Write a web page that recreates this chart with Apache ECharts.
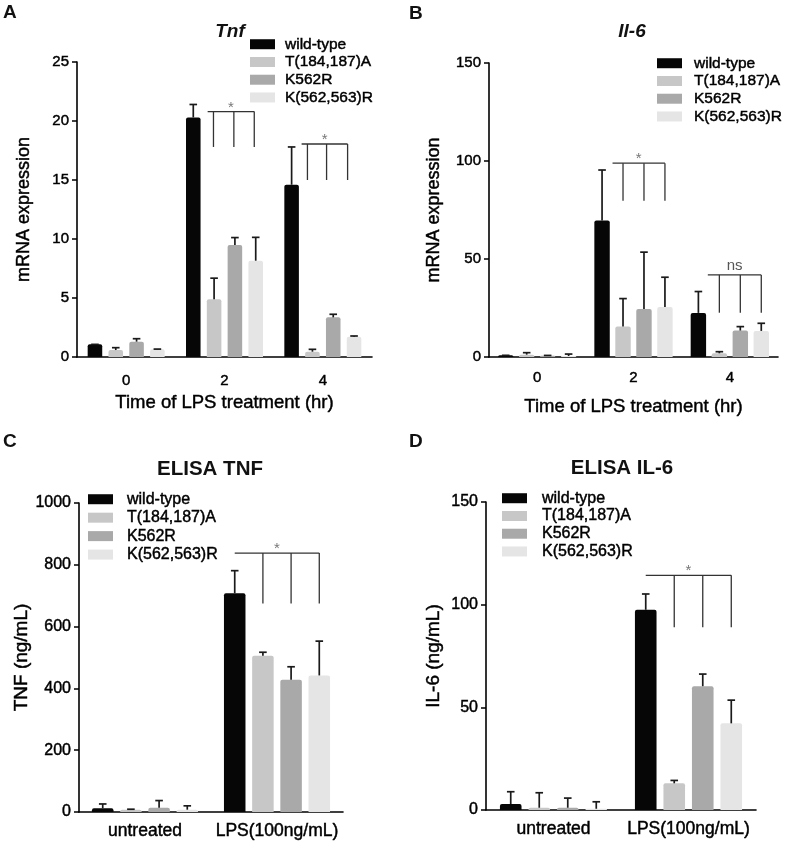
<!DOCTYPE html>
<html>
<head>
<meta charset="utf-8">
<script src="https://cdn.jsdelivr.net/npm/echarts@6/dist/echarts.min.js"></script>
<style>
html,body{margin:0;padding:0;background:#fff;}
#main{width:787px;height:843px;}
</style>
</head>
<body>
<div id="main"></div>
<script>
// ---------------- DATA ----------------
const seriesNames = ['wild-type', 'T(184,187)A', 'K562R', 'K(562,563)R'];
const timeCats = ['0', '2', '4'];
const elisaCats = ['untreated', 'LPS(100ng/mL)'];

const yTicksA = [0, 5, 10, 15, 20, 25];
const yTicksB = [0, 50, 100, 150];
const yTicksC = [0, 200, 400, 600, 800, 1000];
const yTicksD = [0, 50, 100, 150];

// Panel A: Tnf mRNA (rows = series, cols = categories)
const tnfMean = [[1.07, 20.3, 14.6], [0.59, 4.9, 0.45], [1.3, 9.5, 3.36], [0.65, 8.16, 1.72]];
const tnfErr  = [[0.0, 1.1, 3.2], [0.2, 1.78, 0.2], [0.25, 0.62, 0.26], [0.02, 1.98, 0.06]];
// Panel B: Il-6 mRNA
const il6Mean = [[0.85, 69.6, 22.5], [1.2, 15.5, 1.9], [0.7, 24.5, 13.5], [0.5, 25.5, 13.3]];
const il6Err  = [[0.0, 25.8, 10.9], [1.0, 14.3, 0.8], [0.1, 29.0, 2.0], [1.0, 15.2, 3.9]];
// Panel C: ELISA TNF
const elisaTnfMean = [[12, 708], [7, 506], [14, 428], [7.5, 442]];
const elisaTnfErr  = [[14, 73], [2, 11], [23, 42], [12.5, 111]];
// Panel D: ELISA IL-6
const elisaIl6Mean = [[2.9, 97.5], [1.1, 13], [1.1, 60.3], [0.6, 42.2]];
const elisaIl6Err  = [[6, 7.7], [7.3, 1.4], [4.7, 5.9], [3.4, 11.3]];

// significance brackets: [categoryIndex, topValue, bottomValue, label]
const sigA = [[1, 20.8, 17.8, '*'], [2, 18.05, 15.0, '*']];
const sigB = [[1, 98.9, 79.7, '*'], [2, 41.9, 22.6, 'ns']];
const sigC = [[1, 838, 675, '*']];
const sigD = [[1, 114.3, 89, '*']];

// ---------------- STYLE / LAYOUT ----------------
const FONT = '"Liberation Sans", Arial, Helvetica, sans-serif';
const barColors = ['#060606', '#c7c7c7', '#a9a9a9', '#e5e5e5'];
const TB = {textBorderColor: '#000', textBorderWidth: 0.45};

// bracket x-positions in bar-index units (0 = wild-type bar), per bracket
const bracketX = {
  A: [[0.69, 0.97, 1.95, 2.93], [0.48, 0.76, 1.68, 2.69]],
  B: [[0.5, 1, 2, 3], [0.45, 1, 2, 3]],
  C: [[0, 1, 2, 3]],
  D: [[0, 1, 2, 3]]
};

const panels = [
  {key: 'A', grid: {left: 77, top: 62, width: 295, height: 295}, cats: timeCats, mean: tnfMean, err: tnfErr, sig: sigA,
   yMax: 25, yInt: 5, yName: 'mRNA expression', yNameGap: 44, xName: 'Time of LPS treatment (hr)', xNameGap: 36,
   bw: 0.148, gap: 0.43, xLabelMargin: 16, xLabelSize: 15, yNameSize: 18, tickSize: 15,
   legend: {left: 250, top: 36, pad: 5, size: 15.5, gapRow: 1.3}},
  {key: 'B', grid: {left: 489, top: 63, width: 289, height: 294}, cats: timeCats, mean: il6Mean, err: il6Err, sig: sigB,
   yMax: 150, yInt: 50, yName: 'mRNA expression', yNameGap: 46, xName: 'Time of LPS treatment (hr)', xNameGap: 40,
   bw: 0.16, gap: 0.36, xLabelMargin: 13, xLabelSize: 15, yNameSize: 18, tickSize: 15,
   legend: {left: 657, top: 55, pad: 7, size: 15.5, gapRow: 1.3}},
  {key: 'C', grid: {left: 79, top: 503, width: 264, height: 309}, cats: elisaCats, mean: elisaTnfMean, err: elisaTnfErr, sig: sigC,
   yMax: 1000, yInt: 200, yName: 'TNF (ng/mL)', yNameGap: 47, xName: '', xNameGap: 0,
   bw: 0.163, gap: 0.31, xLabelMargin: 10, xLabelSize: 17.5, yNameSize: 19, tickSize: 16,
   legend: {left: 88, top: 491, pad: 9, size: 16, gapRow: 2}},
  {key: 'D', grid: {left: 486, top: 502, width: 270, height: 308}, cats: elisaCats, mean: elisaIl6Mean, err: elisaIl6Err, sig: sigD,
   yMax: 150, yInt: 50, yName: 'IL-6 (ng/mL)', yNameGap: 43, xName: '', xNameGap: 0,
   bw: 0.16, gap: 0.32, xLabelMargin: 10, xLabelSize: 17.5, yNameSize: 19, tickSize: 16,
   legend: {left: 502, top: 490, pad: 10, size: 16, gapRow: 1.3}}
];

const grids = [], xAxes = [], yAxes = [], series = [], legends = [];

panels.forEach(function (p, pi) {
  grids.push(Object.assign({containLabel: false}, p.grid));
  xAxes.push({
    type: 'category', gridIndex: pi, data: p.cats,
    axisLine: {lineStyle: {color: '#000', width: 1.6}},
    axisTick: {show: false},
    axisLabel: Object.assign({interval: 0, color: '#000', fontFamily: FONT, fontSize: p.xLabelSize, margin: p.xLabelMargin}, TB),
    name: p.xName, nameLocation: 'middle', nameGap: p.xNameGap,
    nameTextStyle: Object.assign({color: '#000', fontFamily: FONT, fontSize: 18.5}, TB)
  });
  yAxes.push({
    type: 'value', gridIndex: pi, min: 0, max: p.yMax, interval: p.yInt,
    axisLine: {show: true, lineStyle: {color: '#000', width: 1.6}},
    axisTick: {show: true, length: 5, lineStyle: {color: '#000', width: 1.5}},
    splitLine: {show: false},
    axisLabel: Object.assign({color: '#000', fontFamily: FONT, fontSize: p.tickSize, margin: 8,
      formatter: function (v) { return String(v); }}, TB),
    name: p.yName, nameLocation: 'middle', nameGap: p.yNameGap, nameRotate: 90,
    nameTextStyle: Object.assign({color: '#000', fontFamily: FONT, fontSize: p.yNameSize}, TB)
  });

  seriesNames.forEach(function (nm, si) {
    series.push({
      type: 'bar', name: nm, xAxisIndex: pi, yAxisIndex: pi,
      data: p.mean[si],
      barWidth: (p.bw * 100) + '%', barGap: (p.gap * 100) + '%',
      itemStyle: {color: barColors[si], borderRadius: [2, 2, 0, 0]},
      emphasis: {disabled: true}, silent: true, z: 2
    });
  });

  // error bars
  const errData = [];
  seriesNames.forEach(function (nm, si) {
    p.mean[si].forEach(function (v, ci) { errData.push([ci, v, p.err[si][ci], si]); });
  });
  const bw = p.bw, gap = p.gap;
  series.push({
    type: 'custom', name: 'err' + p.key, xAxisIndex: pi, yAxisIndex: pi, silent: true, z: 5,
    encode: {x: 0, y: 1},
    data: errData,
    renderItem: function (params, api) {
      const cat = api.value(0), v = api.value(1), e = api.value(2), k = api.value(3);
      const band = api.size([1, 0])[0];
      const w = band * bw, step = w * (1 + gap);
      const cx = api.coord([cat, 0])[0] + (k - 1.5) * step;
      const y1 = api.coord([cat, v])[1], y2 = api.coord([cat, v + e])[1];
      const st = {stroke: '#1a1a1a', lineWidth: 1.7};
      return {type: 'group', children: [
        {type: 'line', shape: {x1: cx, y1: y1, x2: cx, y2: y2}, style: st},
        {type: 'line', shape: {x1: cx - 3.8, y1: y2, x2: cx + 3.8, y2: y2}, style: st}
      ]};
    }
  });

  // significance brackets
  const bx = bracketX[p.key];
  series.push({
    type: 'custom', name: 'sig' + p.key, xAxisIndex: pi, yAxisIndex: pi, silent: true, z: 6,
    encode: {x: 0, y: 1},
    data: p.sig.map(function (s, i) { return [s[0], s[1], s[2], i]; }),
    renderItem: function (params, api) {
      const cat = api.value(0), top = api.value(1), bot = api.value(2), idx = api.value(3);
      const label = p.sig[idx][3];
      const xs = bx[idx];
      const band = api.size([1, 0])[0];
      const w = band * bw, step = w * (1 + gap);
      const c0 = api.coord([cat, 0])[0];
      const px = xs.map(function (u) { return c0 + (u - 1.5) * step; });
      const yt = api.coord([cat, top])[1], yb = api.coord([cat, bot])[1];
      const st = {stroke: '#333', lineWidth: 1.3};
      const ch = [{type: 'line', shape: {x1: px[0], y1: yt, x2: px[3], y2: yt}, style: st}];
      for (let j = 1; j < 4; j++) ch.push({type: 'line', shape: {x1: px[j], y1: yt, x2: px[j], y2: yb}, style: st});
      const isStar = label === '*';
      ch.push({type: 'text', x: (px[0] + px[3]) / 2, y: yt - (isStar ? 4 : 9),
        style: {text: label, textAlign: 'center', textVerticalAlign: 'middle',
          font: '15px ' + FONT, fill: isStar ? '#777' : '#555'}});
      return {type: 'group', children: ch};
    }
  });

  legends.push({
    show: true, orient: 'vertical', left: p.legend.left, top: p.legend.top, padding: 0,
    data: seriesNames, icon: 'rect', itemWidth: 25, itemHeight: 10, itemGap: p.legend.gapRow,
    selectedMode: false,
    textStyle: Object.assign({color: '#000', fontFamily: FONT, fontSize: p.legend.size, lineHeight: 16, padding: [0, 0, 0, p.legend.pad]}, TB)
  });
});

const titleTexts = [
  {text: 'A', x: 3, y: 13, font: 'bold 19px ' + FONT, align: 'left'},
  {text: 'B', x: 409, y: 14, font: 'bold 19px ' + FONT, align: 'left'},
  {text: 'C', x: 3, y: 442, font: 'bold 19px ' + FONT, align: 'left'},
  {text: 'D', x: 409, y: 442, font: 'bold 19px ' + FONT, align: 'left'},
  {text: 'Tnf', x: 230, y: 32, font: 'italic bold 19px ' + FONT, align: 'center'},
  {text: 'Il-6', x: 632, y: 32, font: 'italic bold 19px ' + FONT, align: 'center'},
  {text: 'ELISA TNF', x: 210, y: 469, font: 'bold 20.5px ' + FONT, align: 'center'},
  {text: 'ELISA IL-6', x: 622, y: 468, font: 'bold 20.5px ' + FONT, align: 'center'}
];

const chart = echarts.init(document.getElementById('main'), null, {renderer: 'canvas'});
chart.setOption({
  backgroundColor: '#fff',
  animation: false,
  grid: grids, xAxis: xAxes, yAxis: yAxes, series: series, legend: legends,
  graphic: titleTexts.map(function (t) {
    return {type: 'text', x: t.x, y: t.y, silent: true,
      style: {text: t.text, font: t.font, fill: '#111', textAlign: t.align, textVerticalAlign: 'middle'}};
  })
});
</script>
</body>
</html>
